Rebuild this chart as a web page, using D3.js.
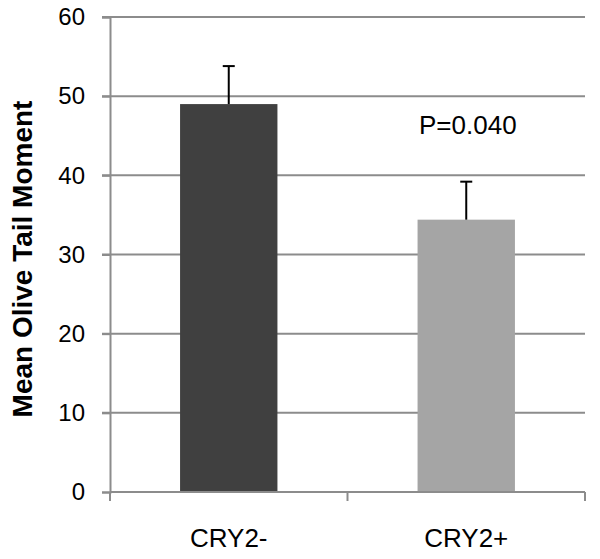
<!DOCTYPE html>
<html><head><meta charset="utf-8">
<script src="https://cdn.jsdelivr.net/npm/d3@7"></script>
<style>body{margin:0;background:#fff}svg{display:block}</style>
</head><body>
<svg id="c" width="600" height="559"></svg>
<script>
const categories = ["CRY2-", "CRY2+"];
const means = [49.0, 34.4];
const errors = [4.8, 4.8];
const barColors = ["#404040", "#a5a5a5"];
const yTicks = [0, 10, 20, 30, 40, 50, 60];
const yLabel = "Mean Olive Tail Moment";
const annotation = "P=0.040";

(function () {
const svg = d3.select("#c");
const mLeft = 110, mRight = 585, mTop = 17, mBottom = 492;
const x = d3.scaleBand().domain(categories).range([mLeft, mRight]).paddingInner(0.59).paddingOuter(0.295);
const y = d3.scaleLinear().domain([0, 60]).range([mBottom, mTop]);
const gridColor = "#8c8c8c";

// gridlines
svg.append("g").selectAll("line").data(yTicks.filter(d => d > 0)).join("line")
  .attr("x1", mLeft - 8).attr("x2", mRight)
  .attr("y1", d => y(d)).attr("y2", d => y(d))
  .attr("stroke", gridColor).attr("stroke-width", 2);

// y axis
const yAxis = svg.append("g").attr("transform", `translate(${mLeft},0)`)
  .call(d3.axisLeft(y).tickValues(yTicks).tickSize(8).tickPadding(17));
yAxis.select(".domain").attr("stroke", gridColor).attr("stroke-width", 2);
yAxis.selectAll(".tick line").attr("stroke", gridColor).attr("stroke-width", 2);
yAxis.selectAll("text").attr("font-family", "Liberation Sans, Arial, sans-serif")
  .attr("font-size", 24).attr("fill", "#000");

// bars
svg.append("g").selectAll("rect").data(categories).join("rect")
  .attr("x", d => x(d)).attr("width", x.bandwidth())
  .attr("y", (d, i) => y(means[i])).attr("height", (d, i) => y(0) - y(means[i]))
  .attr("fill", (d, i) => barColors[i]);

// x axis
const step = (mRight - mLeft) / categories.length;
const xg = svg.append("g");
xg.append("line").attr("x1", mLeft).attr("x2", mRight).attr("y1", mBottom).attr("y2", mBottom)
  .attr("stroke", gridColor).attr("stroke-width", 2);
xg.selectAll("line.t").data(d3.range(categories.length + 1)).join("line").attr("class", "t")
  .attr("x1", i => mLeft + i * step).attr("x2", i => mLeft + i * step)
  .attr("y1", mBottom).attr("y2", mBottom + 9)
  .attr("stroke", gridColor).attr("stroke-width", 2);
xg.selectAll("text").data(categories).join("text")
  .attr("x", d => x(d) + x.bandwidth() / 2).attr("y", 547)
  .attr("text-anchor", "middle")
  .attr("font-family", "Liberation Sans, Arial, sans-serif").attr("font-size", 26)
  .text(d => d);

// error bars
const eb = svg.append("g").attr("stroke", "#000").attr("stroke-width", 2);
categories.forEach((c, i) => {
  const cx = x(c) + x.bandwidth() / 2;
  eb.append("line").attr("x1", cx).attr("x2", cx).attr("y1", y(means[i])).attr("y2", y(means[i] + errors[i]));
  eb.append("line").attr("x1", cx - 6).attr("x2", cx + 6).attr("y1", y(means[i] + errors[i])).attr("y2", y(means[i] + errors[i]));
});

// annotation
svg.append("text").attr("x", 419).attr("y", 134)
  .attr("font-family", "Liberation Sans, Arial, sans-serif").attr("font-size", 26)
  .text(annotation);

// y label
svg.append("text").attr("transform", `translate(32,259) rotate(-90)`)
  .attr("text-anchor", "middle")
  .attr("font-family", "Liberation Sans, Arial, sans-serif").attr("font-weight", "bold")
  .attr("font-size", 28).text(yLabel);
})();
</script>
</body></html>
